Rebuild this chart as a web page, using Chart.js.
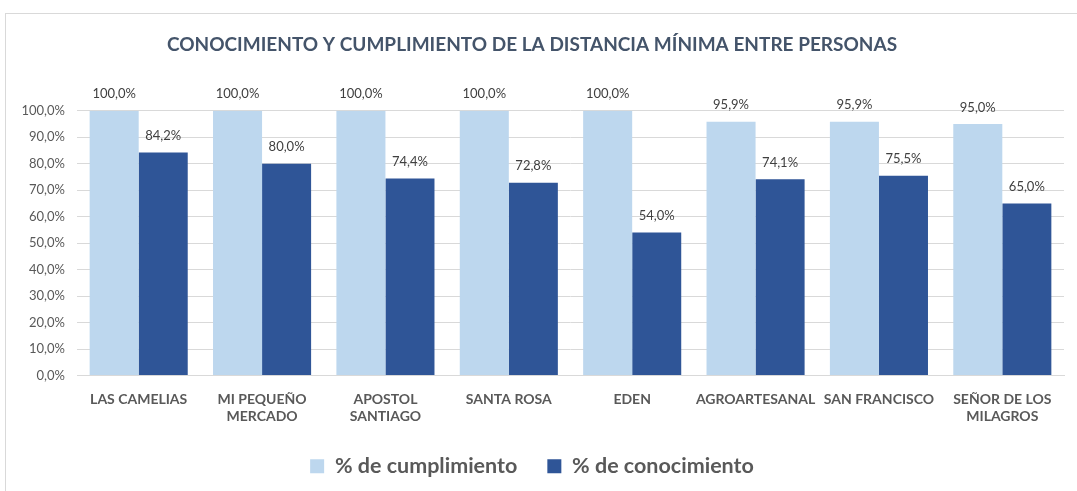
<!DOCTYPE html>
<html>
<head>
<meta charset="utf-8">
<script src="https://cdn.jsdelivr.net/npm/chart.js@4/dist/chart.umd.min.js"></script>
<style>
  body { margin: 0; background: #fff; }
  #frame { position: absolute; left: 5px; top: 13px; width: 1100px; height: 500px; border: 1px solid #d9d9d9; }
  #chart { position: absolute; left: 0; top: 0; }
</style>
</head>
<body>
<div id="frame"></div>
<canvas id="chart" width="1077" height="491"></canvas>
<script>
// Categories and series
const categories = [
  'LAS CAMELIAS',
  ['MI PEQUEÑO', 'MERCADO'],
  ['APOSTOL', 'SANTIAGO'],
  'SANTA ROSA',
  'EDEN',
  'AGROARTESANAL',
  'SAN FRANCISCO',
  ['SEÑOR DE LOS', 'MILAGROS'],
];
const cumplimiento = [100, 100, 100, 100, 100, 95.9, 95.9, 95.0];
const conocimiento = [84.2, 80.0, 74.4, 72.8, 54.0, 74.1, 75.5, 65.0];
const yTicks = [0, 10, 20, 30, 40, 50, 60, 70, 80, 90, 100];

const FONT = 'Lato, "Open Sans", sans-serif';
const TEXT = '#595959';

const fmt = (v) => v.toFixed(1).replace('.', ',') + '%';

// draws value labels above each bar
const barLabels = {
  id: 'barLabels',
  afterDatasetsDraw(chart) {
    const ctx = chart.ctx;
    ctx.save();
    ctx.font = '13px ' + FONT;
    ctx.fillStyle = '#404040';
    ctx.textAlign = 'center';
    ctx.textBaseline = 'bottom';
    chart.data.datasets.forEach((ds, i) => {
      chart.getDatasetMeta(i).data.forEach((bar, j) => {
        ctx.fillText(fmt(ds.data[j]), bar.x, bar.y - 10);
      });
    });
    ctx.restore();
  },
};

new Chart(document.getElementById('chart'), {
  type: 'bar',
  data: {
    labels: categories,
    datasets: [
      { label: '% de cumplimiento', data: cumplimiento, backgroundColor: '#bdd7ee' },
      { label: '% de conocimiento', data: conocimiento, backgroundColor: '#2f5597' },
    ],
  },
  options: {
    responsive: false,
    animation: false,
    categoryPercentage: 0.795,
    barPercentage: 1,
    layout: { padding: { left: 0, right: 13, top: 0, bottom: 4 } },
    plugins: {
      title: {
        display: true,
        text: 'CONOCIMIENTO Y CUMPLIMIENTO DE LA DISTANCIA MÍNIMA ENTRE PERSONAS',
        color: '#44546a',
        font: { family: FONT, size: 19, weight: 'bold' },
        padding: { top: 33, bottom: 55 },
      },
      legend: {
        position: 'bottom',
        labels: {
          color: TEXT,
          font: { family: FONT, size: 21.5, weight: 'bold' },
          boxWidth: 14,
          boxHeight: 14,
          padding: 30,
        },
      },
      tooltip: { enabled: false },
    },
    scales: {
      x: {
        grid: { display: false },
        border: { color: '#d9d9d9' },
        ticks: { color: TEXT, font: { family: FONT, size: 14, weight: 'bold' }, maxRotation: 0, autoSkip: false, padding: 8 },
        afterFit: (s) => { s.height = 50; },
      },
      y: {
        min: 0,
        max: 100,
        afterBuildTicks: (s) => { s.ticks = yTicks.map((v) => ({ value: v })); },
        grid: { color: '#d9d9d9', drawTicks: false },
        border: { display: false },
        ticks: { color: TEXT, font: { family: FONT, size: 13 }, padding: 12, callback: (v) => fmt(v) },
        afterFit: (s) => { s.width = 77; },
      },
    },
  },
  plugins: [barLabels],
});
</script>
</body>
</html>
